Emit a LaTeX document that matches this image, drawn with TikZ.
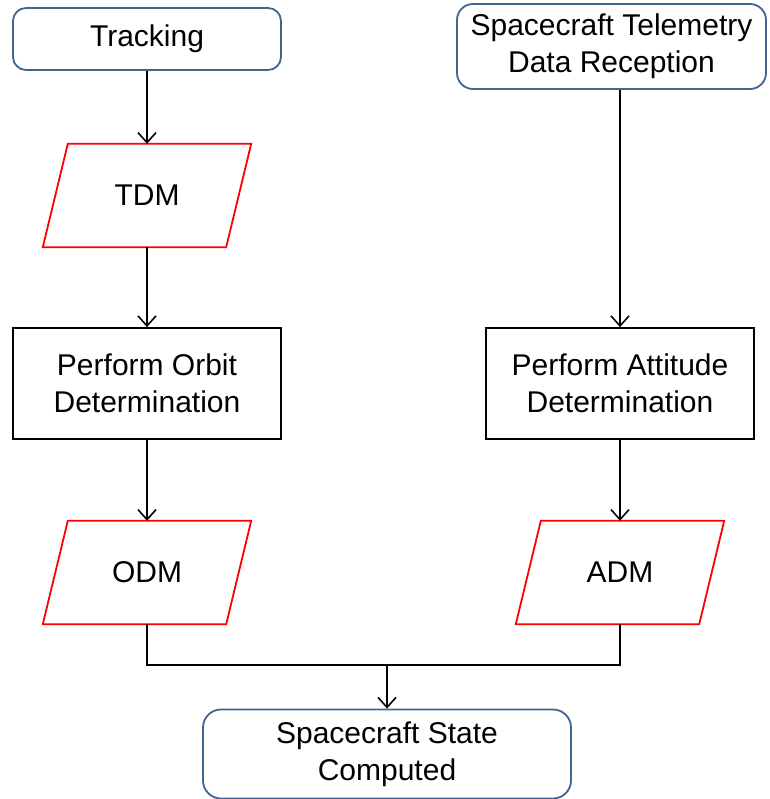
\documentclass[tikz,border=0pt]{standalone}
\usepackage{fontspec}
\setmainfont{Liberation Sans}
\usetikzlibrary{arrows.meta,calc}
\definecolor{roundblue}{RGB}{65,100,145}
\definecolor{datared}{RGB}{255,0,0}
\tikzset{
  every node/.style={font=\fontsize{30}{37}\selectfont, align=center, inner sep=0pt},
  terminal/.style={draw=roundblue, line width=1.8pt, rounded corners=13pt},
  process/.style={draw=black, line width=1.8pt},
  datanode/.style={draw=none, minimum width=182pt, minimum height=103pt},
  databorder/.style={draw=datared, line width=1.8pt, line join=miter},
  arr/.style={draw=black, line width=1.6pt, -{Straight Barb[length=10pt,width=18pt,line width=1.6pt]}},
  conn/.style={draw=black, line width=1.6pt}
}
\newcommand{\parallelo}[1]{%
  \draw[databorder] ($(#1.north west)+(25pt,0)$) -- ($(#1.north east)+(0,0)$)
    -- ($(#1.south east)+(-25pt,0)$) -- (#1.south west) -- cycle;}
\begin{document}
\begin{tikzpicture}[x=1pt,y=-1pt]
\useasboundingbox (0,0) rectangle (769,799);
\fill[white] (0,0) rectangle (769,799);

\node[terminal, minimum width=268pt, minimum height=62pt] (track) at (147,39) {Tracking};
\node[terminal, minimum width=309pt, minimum height=85pt, rounded corners=16pt] (tele) at (611.5,46.5) {Spacecraft Telemetry\\Data Reception};

\node[datanode, minimum width=208pt] (tdm) at (147,195.5) {TDM};
\node[process, minimum width=268pt, minimum height=111pt] (orbit) at (147,383.5) {Perform Orbit\\Determination};
\node[process, minimum width=268pt, minimum height=111pt] (att) at (620,383.5) {Perform Attitude\\Determination};
\node[datanode, minimum width=208pt] (odm) at (147,572.5) {ODM};
\node[datanode, minimum width=208pt] (adm) at (620,572.5) {ADM};
\node[terminal, minimum width=368pt, minimum height=89pt, rounded corners=18pt] (final) at (387,754) {Spacecraft State\\Computed};

\parallelo{tdm}
\parallelo{odm}
\parallelo{adm}

\coordinate (j) at (387,665);

\draw[arr] (track.south) -- (tdm.north);
\draw[arr] (tdm.south) -- (orbit.north);
\draw[arr] (orbit.south) -- (odm.north);
\draw[arr] (tele.south -| att.north) -- (att.north);
\draw[arr] (att.south) -- (adm.north);
\draw[conn] (odm.south) |- (j) -| (adm.south);
\draw[arr] (j) -- (final.north);
\end{tikzpicture}
\end{document}
